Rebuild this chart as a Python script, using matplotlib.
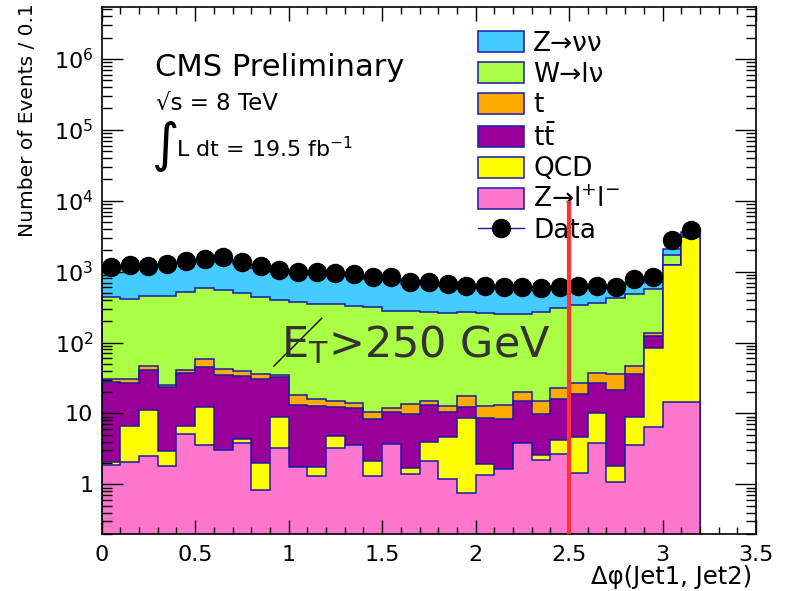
import numpy as np
import matplotlib
matplotlib.use('Agg')
import matplotlib.pyplot as plt
from matplotlib.patches import Patch
from matplotlib.lines import Line2D
from matplotlib.ticker import MultipleLocator, LogLocator, FuncFormatter

plt.rcParams['font.family'] = ['DejaVu Sans']
plt.rcParams['mathtext.fontset'] = 'dejavusans'

# bin edges: 0 .. 3.2 in steps of 0.1
edges = np.round(np.arange(0, 3.21, 0.1), 2)

# per-process contributions per bin
zll = [1.9, 2.08, 2.5, 1.8, 5.2, 3.6, 3.05, 3.86, 0.83, 3.3, 1.77, 1.31, 3.3, 3.6, 1.31, 3.7,
       1.38, 2.15, 1.19, 0.75, 1.35, 1.63, 3.86, 2.2, 2.68, 1.43, 3.86, 1.09, 3.58, 6.5, 14.6, 14.3]
qcd = [0.18, 4.62, 8.7, 1.15, 1.5, 8.6, 0.0, 0.44, 1.15, 5.7, 0.0, 0.46, 1.5, 0.0, 0.82, 0.0,
       0.30, 1.8, 3.51, 7.75, 0.58, 0.0, 0.0, 0.39, 1.52, 3.27, 6.34, 0.72, 5.22, 76.5, 1223, 3086]
ttbar = [25.9, 20.3, 29.8, 20.85, 29.9, 33.4, 31.65, 29.3, 29.0, 23.3, 11.43, 11.13, 7.6, 8.5, 6.17, 6.9,
         8.12, 9.35, 5.8, 3.9, 6.77, 6.67, 11.04, 7.21, 11.6, 13.9, 16.3, 19.6, 26.8, 40, 12, 5]
top = [3.0, 3.5, 5.8, 1.2, 4.4, 12.9, 7.3, 6.4, 5.0, 2.4, 5.0, 2.9, 2.5, 1.8, 2.3, 1.2,
       3.6, 1.8, 2.4, 5.4, 4.0, 4.9, 5.0, 5.1, 6.8, 8.4, 11.0, 14.2, 11.1, 11, 3, 3]
wlnu = [412, 380, 410, 432, 469, 522, 502, 454, 407, 363, 358, 339, 330, 316, 309, 265,
        264, 250, 252, 250, 252, 239, 232, 257, 282, 312, 326, 384, 436, 429, 452, 192]
znn = [627, 689, 653, 733, 820, 839, 936, 786, 687, 602, 564, 565, 545, 530, 480, 503,
       393, 395, 355, 322, 315, 308, 308, 278, 255, 251, 236, 180, 217, 237, 366, 300]
data = [1170, 1230, 1200, 1280, 1420, 1500, 1630, 1360, 1200, 1070, 1000, 980, 945, 915, 850, 830,
        705, 705, 660, 630, 628, 600, 600, 580, 600, 628, 628, 610, 780, 850, 2790, 3860]

labels = ['Z\u2192\u03bd\u03bd', 'W\u2192l\u03bd', 't', r't$\bar{\mathrm{t}}$', 'QCD', 'Z\u2192l$^{+}$l$^{-}$']
colors = ['#44ccff', '#aaff44', '#ffaa00', '#990099', '#ffff00', '#ff77cc']
edgec = '#1a1aa8'

# stack from bottom: Z->ll, QCD, ttbar, t, W, Z->nunu
stack = [zll, qcd, ttbar, top, wlnu, znn]
cum = np.cumsum(np.array(stack, dtype=float), axis=0)

fig = plt.figure(figsize=(7.92, 5.91), dpi=100)
ax = fig.add_axes([101.7/792, 1 - 534/591, (756 - 101.7)/792, (534 - 7.3)/591])
ax.set_yscale('log')

stack_colors = colors[::-1]  # bottom -> top order
for k in range(len(stack) - 1, -1, -1):
    ax.stairs(cum[k], edges, baseline=1e-3, fill=True, facecolor=stack_colors[k],
              edgecolor=edgec, linewidth=1.1)

centers = 0.5 * (edges[:-1] + edges[1:])
ax.plot(centers, data, 'o', color='k', ms=13, zorder=5)

ax.vlines(2.5, 0.2, 1e4, color='#ff3333', lw=3, zorder=6)

ax.set_xlim(0, 3.5)
ax.set_ylim(0.199, 5.35e6)

ax.xaxis.set_major_locator(MultipleLocator(0.5))
ax.xaxis.set_minor_locator(MultipleLocator(0.1))
ax.yaxis.set_major_locator(LogLocator(base=10, numticks=12))
ax.yaxis.set_minor_locator(LogLocator(base=10, subs=np.arange(2, 10), numticks=12))


def ylab(v, pos):
    e = int(round(np.log10(v)))
    if e == 0:
        return '1'
    if e == 1:
        return '10'
    return r'$10^{%d}$' % e


ax.yaxis.set_major_formatter(FuncFormatter(ylab))
ax.xaxis.set_major_formatter(FuncFormatter(lambda v, p: '%g' % v))
ax.tick_params(which='both', direction='in', top=True, right=True, labelsize=16, width=1)
ax.tick_params(axis='x', which='major', length=10, pad=8)
ax.tick_params(axis='x', which='minor', length=5)
ax.tick_params(axis='y', which='major', length=15, pad=6)
ax.tick_params(axis='y', which='minor', length=7.5)
for s in ax.spines.values():
    s.set_linewidth(1.2)

fig.text(28/792, 1 - 3/591, 'Number of Events / 0.1', rotation=90, ha='center', va='top', fontsize=14.5)
fig.text(752/792, 1 - 577/591, '\u0394\u03c6(Jet1, Jet2)', ha='right', va='center', fontsize=17.5)

fig.text(155/792, 1 - 68/591, 'CMS Preliminary', ha='left', va='center', fontsize=22)
fig.text(156/792, 1 - 103/591, '\u221as = 8 TeV', ha='left', va='center', fontsize=16.5)
fig.text(152/792, 1 - 146/591, '\u222b', ha='left', va='center', fontsize=38)
fig.text(176/792, 1 - 149/591, r'L dt = 19.5 fb$^{-1}$', ha='left', va='center', fontsize=16)

fig.text(281/792, 1 - 357/591, r'$\mathregular{E_{T}}$>250 GeV', ha='left', va='baseline',
         fontsize=31, color='#333333')
fig.add_artist(Line2D([274/792, 321.7/792], [1 - 366/591, 1 - 318.3/591], color='k', lw=1))

handles = [Patch(facecolor=c, edgecolor=edgec, linewidth=1.1) for c in colors]
handles.append(Line2D([], [], color=edgec, lw=1, marker='o', mfc='k', mec='k', ms=13))
ax.legend(handles, labels + ['Data'], loc='upper left', bbox_to_anchor=(478/792, 1 - 31/591),
          bbox_transform=fig.transFigure, frameon=False, fontsize=19, borderpad=0,
          borderaxespad=0, handlelength=1.74, handleheight=0.83, handletextpad=0.35,
          labelspacing=0.18)

fig.savefig('out.png', dpi=100)
